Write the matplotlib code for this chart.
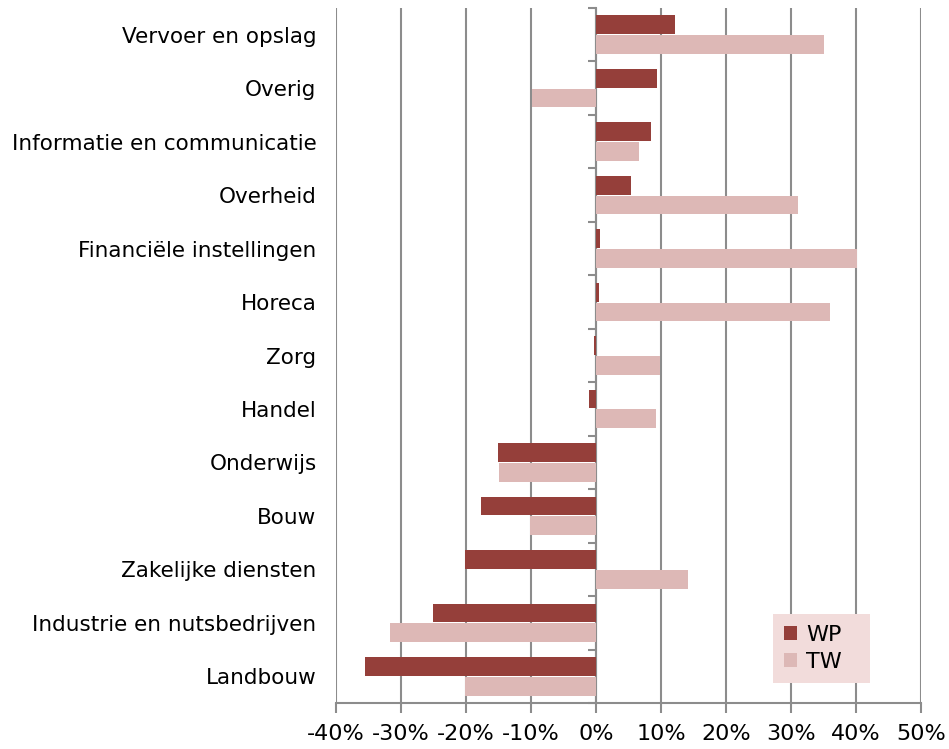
import matplotlib.pyplot as plt
import numpy as np
from matplotlib.ticker import FuncFormatter

# Sectors, top to bottom as in the chart
sectors = [
    "Vervoer en opslag", "Overig", "Informatie en communicatie", "Overheid",
    "Financiële instellingen", "Horeca", "Zorg", "Handel", "Onderwijs",
    "Bouw", "Zakelijke diensten", "Industrie en nutsbedrijven", "Landbouw"
]

# values in percent
wp = [12.2, 9.4, 8.5, 5.4, 0.6, 0.5, -0.3, -1.1, -15.1, -17.7, -20.2, -25.1, -35.5]
tw = [35.1, -9.8, 6.6, 31.1, 40.2, 36.0, 9.8, 9.3, -14.9, -10.2, 14.2, -31.7, -20.2]

wp_color = '#953F3A'
tw_color = '#DDB8B6'
grid_color = '#8C8C8C'

fig = plt.figure(figsize=(9.49, 7.49), dpi=100)
ax = fig.add_axes([336 / 949, 46 / 749, 585 / 949, 695 / 749])

y = np.arange(len(sectors))
h = 0.35
ax.barh(y - 0.185, wp, height=h, color=wp_color, label='WP', zorder=3)
ax.barh(y + 0.185, tw, height=h, color=tw_color, label='TW', zorder=3)

ax.set_xlim(-40, 50)
ax.set_ylim(len(sectors) - 0.5, -0.5)
ax.set_xticks(np.arange(-40, 51, 10))
ax.xaxis.set_major_formatter(FuncFormatter(lambda v, p: f"{v:.0f}%"))
ax.tick_params(axis='x', labelsize=16, length=7, width=1.5, color=grid_color, pad=8)
ax.grid(True, axis='x', color=grid_color, linewidth=1.5, zorder=0)

ax.set_yticks(y)
ax.set_yticklabels(sectors, fontsize=15.5)
ax.tick_params(axis='y', length=0, pad=14)

for s in ['top', 'right', 'left']:
    ax.spines[s].set_visible(False)
ax.spines['bottom'].set_color(grid_color)
ax.spines['bottom'].set_linewidth(1.5)

# category axis drawn at 0%
sec = ax.secondary_yaxis(40 / 90)
sec.set_yticks(np.arange(-0.5, len(sectors), 1.0))
sec.set_yticklabels([])
sec.tick_params(axis='y', length=6, width=1.5, color=grid_color)
sec.spines['left'].set_color(grid_color)
sec.spines['left'].set_linewidth(1.5)

leg = ax.legend(loc='lower left', bbox_to_anchor=(0.747, 0.029, 0.166, 0.1),
                mode='expand', fontsize=16,
                frameon=True, fancybox=False, facecolor='#F2DCDB', edgecolor='none',
                framealpha=1, handlelength=0.6, handleheight=0.6, borderpad=0.5,
                labelspacing=0.3, handletextpad=0.4, borderaxespad=0)
leg.get_frame().set_linewidth(0)
leg.set_zorder(5)

plt.savefig('out.png', dpi=100)
